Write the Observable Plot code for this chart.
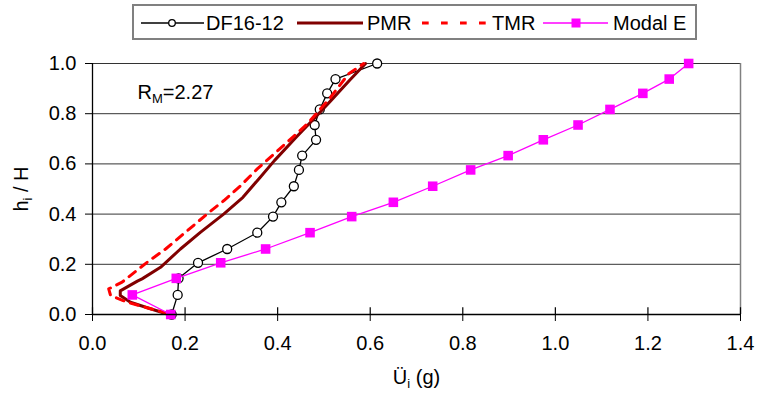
<!DOCTYPE html>
<html>
<head>
<meta charset="utf-8">
<script src="https://cdn.jsdelivr.net/npm/d3@7"></script>
<script src="https://cdn.jsdelivr.net/npm/@observablehq/plot@0.6"></script>
<style>
  html, body { margin: 0; padding: 0; background: #fff; }
  #wrap { width: 757px; height: 404px; position: relative; font-family: 'Liberation Sans', Arial, sans-serif; }
  #legend { display: block; }
  #chart svg { display: block; }
</style>
</head>
<body>
<div id="wrap">
  <div id="legend"></div>
  <div id="chart"></div>
</div>
<script>
// ---- data ----
const xTicks = [0, 0.2, 0.4, 0.6, 0.8, 1.0, 1.2, 1.4];
const yTicks = [0, 0.2, 0.4, 0.6, 0.8, 1.0];

const seriesNames = ["DF16-12", "PMR", "TMR", "Modal E"];

// DF16-12 (measured)
const dfH = [0, 0.078, 0.144, 0.206, 0.261, 0.326, 0.390, 0.447, 0.511, 0.576, 0.633, 0.696, 0.755, 0.817, 0.881, 0.938, 1.0];
const dfA = [0.171, 0.184, 0.186, 0.228, 0.291, 0.356, 0.390, 0.408, 0.435, 0.446, 0.453, 0.483, 0.480, 0.491, 0.507, 0.525, 0.615];

// PMR
const pmrH = [0.0, 0.023, 0.049, 0.076, 0.094, 0.133, 0.142, 0.188, 0.261, 0.327, 0.401, 0.467, 0.546, 0.613, 0.706, 0.785, 0.852, 0.934, 1.0];
const pmrA = [0.165, 0.125, 0.082, 0.060, 0.060, 0.097, 0.107, 0.147, 0.190, 0.233, 0.284, 0.325, 0.362, 0.393, 0.440, 0.481, 0.515, 0.556, 0.590];

// TMR
const tmrH = [0.005, 0.027, 0.049, 0.076, 0.102, 0.129, 0.208, 0.261, 0.334, 0.401, 0.454, 0.513, 0.580, 0.639, 0.759, 0.860, 0.958, 1.0];
const tmrA = [0.161, 0.118, 0.075, 0.039, 0.035, 0.064, 0.118, 0.158, 0.205, 0.248, 0.284, 0.320, 0.356, 0.392, 0.464, 0.512, 0.553, 0.586];

// Modal E
const meH = [0, 0.078, 0.144, 0.206, 0.261, 0.326, 0.390, 0.447, 0.511, 0.576, 0.633, 0.696, 0.755, 0.817, 0.881, 0.938, 1.0];
const meA = [0.169, 0.086, 0.181, 0.277, 0.374, 0.470, 0.560, 0.650, 0.735, 0.817, 0.898, 0.974, 1.049, 1.118, 1.189, 1.246, 1.288];

const annotation = "RM=2.27";
const xLabel = "Üi (g)";
const yLabel = "hi / H";

// ---- build tables ----
const zip = (a, h) => a.map((v, i) => ({a: v, h: h[i]}));
const df = zip(dfA, dfH), pmr = zip(pmrA, pmrH), tmr = zip(tmrA, tmrH), me = zip(meA, meH);

const FONT = "'Liberation Sans', Arial, sans-serif";
const fmt = d3.format(".1f");

// ---- legend (above the plot svg) ----
const NS = "http://www.w3.org/2000/svg";
const leg = d3.select("#legend").append("svg").attr("width", 757).attr("height", 40)
  .style("display", "block").style("font-family", FONT).style("font-size", "20px");
leg.append("rect").attr("x", 133).attr("y", 5).attr("width", 563).attr("height", 34)
  .attr("fill", "none").attr("stroke", "#808080").attr("stroke-width", 2);
const ly = 23, tb = 29.5;
// DF16-12
leg.append("line").attr("x1", 141).attr("x2", 204).attr("y1", ly).attr("y2", ly).attr("stroke", "#000").attr("stroke-width", 1.3);
leg.append("circle").attr("cx", 172).attr("cy", ly).attr("r", 3.3).attr("fill", "#fff").attr("stroke", "#000").attr("stroke-width", 1.3);
leg.append("text").attr("x", 206).attr("y", tb).text(seriesNames[0]);
// PMR
leg.append("line").attr("x1", 297).attr("x2", 363).attr("y1", ly).attr("y2", ly).attr("stroke", "#800000").attr("stroke-width", 3);
leg.append("text").attr("x", 367).attr("y", tb).text(seriesNames[1]);
// TMR
leg.append("line").attr("x1", 422).attr("x2", 486).attr("y1", ly).attr("y2", ly).attr("stroke", "#ff0000").attr("stroke-width", 3).attr("stroke-dasharray", "6.7,12.3");
leg.append("text").attr("x", 492).attr("y", tb).text(seriesNames[2]);
// Modal E
leg.append("line").attr("x1", 543).attr("x2", 608).attr("y1", ly).attr("y2", ly).attr("stroke", "#ff00ff").attr("stroke-width", 1.3);
leg.append("rect").attr("x", 576 - 4.5).attr("y", ly - 4.5).attr("width", 9).attr("height", 9).attr("fill", "#ff00ff");
leg.append("text").attr("x", 613).attr("y", tb).text(seriesNames[3]);

// ---- plot ----
const chart = Plot.plot({
  width: 757,
  height: 364,
  marginTop: 23,
  marginBottom: 90,
  marginLeft: 92,
  marginRight: 17,
  style: {fontFamily: FONT, fontSize: "20px", color: "#000", background: "#fff", overflow: "visible"},
  x: {domain: [0, 1.4]},
  y: {domain: [0, 1]},
  marks: [
    Plot.gridY(yTicks, {stroke: "#000", strokeOpacity: 0.8, strokeWidth: 1}),
    Plot.ruleX([1.4], {stroke: "#808080", strokeWidth: 1.5}),
    Plot.line(df, {x: "a", y: "h", stroke: "#000", strokeWidth: 1.3}),
    Plot.dot(df, {x: "a", y: "h", r: 4.5, fill: "#fff", stroke: "#000", strokeWidth: 1.3}),
    Plot.line(pmr, {x: "a", y: "h", stroke: "#800000", strokeWidth: 3}),
    Plot.line(tmr, {x: "a", y: "h", stroke: "#ff0000", strokeWidth: 3, strokeDasharray: "8,7"}),
    Plot.line(me, {x: "a", y: "h", stroke: "#ff00ff", strokeWidth: 1.3}),
    Plot.dot(me, {x: "a", y: "h", symbol: "square", r: 5.4, fill: "#ff00ff", stroke: "none"}),
    Plot.ruleX([0], {stroke: "#000", strokeWidth: 1.3}),
    Plot.ruleY([0], {stroke: "#000", strokeWidth: 1.3}),
    Plot.ruleX(xTicks, {x: d => d, y1: 0, y2: 0.027, stroke: "#000", strokeWidth: 1.2}),
    Plot.axisX(xTicks, {tickFormat: fmt, tickSize: 7, tickPadding: 14, label: null, fontSize: 20}),
    Plot.axisY(yTicks, {tickFormat: fmt, tickSize: 7, tickPadding: 9, label: null, fontSize: 20}),
    Plot.text([annotation], {frameAnchor: "top-left", dx: 45, dy: 21, textAnchor: "start", fontSize: 20}),
    Plot.text([yLabel], {frameAnchor: "left", dx: -71, rotate: -90, textAnchor: "middle", fontSize: 20}),
    Plot.text([xLabel], {frameAnchor: "bottom", dy: 69.6, textAnchor: "middle", fontSize: 20})
  ]
});
document.getElementById("chart").appendChild(chart);

// subscripts as real text via tspans
function subscript(svg, full, base, sub, rest) {
  svg.querySelectorAll("text").forEach(t => {
    if (t.textContent === full) {
      t.textContent = "";
      t.appendChild(document.createTextNode(base));
      const s = document.createElementNS(NS, "tspan");
      s.setAttribute("dy", "4");
      s.setAttribute("font-size", "13");
      s.textContent = sub;
      t.appendChild(s);
      const r = document.createElementNS(NS, "tspan");
      r.setAttribute("dy", "-4");
      r.textContent = rest;
      t.appendChild(r);
    }
  });
}
subscript(chart, annotation, "R", "M", "=2.27");
subscript(chart, yLabel, "h", "i", " / H");
subscript(chart, xLabel, "Ü", "i", " (g)");
</script>
</body>
</html>
